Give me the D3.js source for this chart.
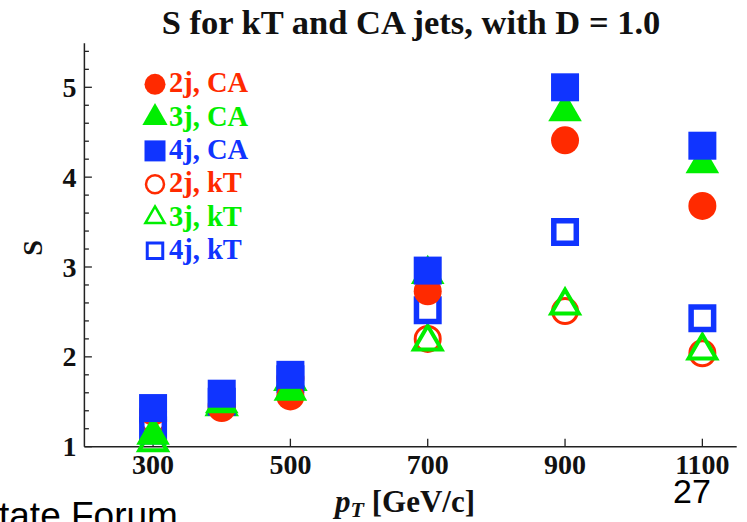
<!DOCTYPE html>
<html><head><meta charset="utf-8">
<script src="https://cdn.jsdelivr.net/npm/d3@7"></script>
<style>body{margin:0;background:#fff}svg{display:block}</style>
</head><body>
<script>
const pt = [300, 400, 500, 700, 900, 1100];
const xTicks = [300, 500, 700, 900, 1100];
const yTicks = [1, 2, 3, 4, 5];
const CA2 = [1.39, 1.43, 1.56, 2.73, 4.41, 3.68];
const CA3 = [1.13, 1.48, 1.62, 2.92, 4.73, 4.15];
const CA4 = [1.43, 1.59, 1.80, 2.96, 5.00, 4.35];
const kT2 = [1.30, 1.46, 1.76, 2.20, 2.51, 2.04];
const kT3 = [1.05, 1.45, 1.73, 2.17, 2.57, 2.07];
const kT4 = [1.18, 1.50, 1.75, 2.52, 3.39, 2.43];
const seriesNames = ["2j, CA", "3j, CA", "4j, CA", "2j, kT", "3j, kT", "4j, kT"];

const RED = "#ff2a00", GREEN = "#00ee00", BLUE = "#1034ff";
const series = [
  {name: seriesNames[3], vals: kT2, shape: "circle", fill: false, color: RED},
  {name: seriesNames[4], vals: kT3, shape: "triangle", fill: false, color: GREEN},
  {name: seriesNames[5], vals: kT4, shape: "square", fill: false, color: BLUE},
  {name: seriesNames[0], vals: CA2, shape: "circle", fill: true, color: RED},
  {name: seriesNames[1], vals: CA3, shape: "triangle", fill: true, color: GREEN},
  {name: seriesNames[2], vals: CA4, shape: "square", fill: true, color: BLUE}
];
const legendOrder = [3, 4, 5, 0, 1, 2];

const W = 747, H = 522;
const svg = d3.select("body").append("svg").attr("width", W).attr("height", H);
const x = d3.scaleLinear().domain([200, 1150]).range([84.4, 736.7]);
const y = d3.scaleLinear().domain([1, 5]).range([446.7, 87.3]);
const serif = "'Liberation Serif','Times New Roman',serif";

function symPath(shape, scale, fill) {
  if (shape === "circle") {
    const r = fill ? scale / 2 : scale / 2 - 1.5;
    return d3.symbol(d3.symbolCircle, Math.PI * r * r)();
  }
  if (shape === "square") {
    const s = fill ? scale : scale - 5.5;
    return d3.symbol(d3.symbolSquare, s * s)();
  }
  const w = fill ? scale * 1.2 : scale * 1.2 - 6;
  const yy = w / (2 * Math.sqrt(3));
  return d3.symbol(d3.symbolTriangle, yy * yy * 3 * Math.sqrt(3))();
}
function strokeW(shape) { return shape === "circle" ? 3 : shape === "square" ? 5.5 : 4; }

// axes
const axisColor = "#222";
const gy = svg.append("g").attr("transform", `translate(${x(200)},0)`);
gy.append("line").attr("x1", 0).attr("x2", 0).attr("y1", y(1)).attr("y2", y(5.49))
  .attr("stroke", axisColor).attr("stroke-width", 1.5);
const minorY = d3.range(1.2, 5.5, 0.2).filter(v => Math.abs(v - Math.round(v)) > 0.01);
gy.selectAll(".mn").data(minorY).join("line").attr("x1", 0).attr("x2", 4.5)
  .attr("y1", d => y(d)).attr("y2", d => y(d)).attr("stroke", axisColor).attr("stroke-width", 1.3);
gy.selectAll(".mj").data(yTicks).join("line").attr("x1", 0).attr("x2", 7.5)
  .attr("y1", d => y(d)).attr("y2", d => y(d)).attr("stroke", axisColor).attr("stroke-width", 1.3);
gy.selectAll("text").data(yTicks).join("text").attr("x", -8).attr("y", d => y(d) + 9.5)
  .attr("text-anchor", "end").attr("font-family", serif).attr("font-weight", "bold")
  .attr("font-size", 28).attr("fill", "#111").text(d => d);

const gx = svg.append("g");
gx.append("line").attr("x1", x(200)).attr("x2", x(1150)).attr("y1", y(1)).attr("y2", y(1))
  .attr("stroke", axisColor).attr("stroke-width", 1.5);
gx.selectAll(".tk").data(xTicks).join("line").attr("x1", d => x(d)).attr("x2", d => x(d))
  .attr("y1", y(1)).attr("y2", y(1) - 8).attr("stroke", axisColor).attr("stroke-width", 1.3);
gx.selectAll("text").data(xTicks).join("text").attr("x", d => x(d)).attr("y", 474)
  .attr("text-anchor", "middle").attr("font-family", serif).attr("font-weight", "bold")
  .attr("font-size", 28).attr("fill", "#111").text(d => d);

// points
series.forEach(s => {
  svg.append("g").selectAll("path").data(pt.map((p, i) => [p, s.vals[i]])).join("path")
    .attr("transform", d => `translate(${x(d[0])},${y(d[1])})`)
    .attr("d", symPath(s.shape, 28, s.fill))
    .attr("fill", s.fill ? s.color : "none")
    .attr("stroke", s.fill ? "none" : s.color)
    .attr("stroke-width", s.fill ? 0 : strokeW(s.shape));
});

// legend
const lg = svg.append("g");
legendOrder.forEach((si, k) => {
  const s = series[si];
  const cy = 84.3 + k * 33.3;
  lg.append("path").attr("transform", `translate(155,${cy})`)
    .attr("d", symPath(s.shape, 21, s.fill))
    .attr("fill", s.fill ? s.color : "none")
    .attr("stroke", s.fill ? "none" : s.color)
    .attr("stroke-width", s.fill ? 0 : (s.shape === "square" ? 3 : 2.5));
  lg.append("text").attr("x", 169).attr("y", cy + 8).attr("font-family", serif)
    .attr("font-weight", "bold").attr("font-size", 28.5).attr("fill", s.color).text(s.name);
});

// titles
svg.append("text").attr("x", 411).attr("y", 34).attr("text-anchor", "middle")
  .attr("font-family", serif).attr("font-weight", "bold").attr("font-size", 34.5)
  .attr("fill", "#111").text("S for kT and CA jets, with D = 1.0");
svg.append("text").attr("transform", "translate(42,248) rotate(-90)").attr("text-anchor", "middle")
  .attr("font-family", serif).attr("font-weight", "bold").attr("font-size", 28)
  .attr("fill", "#111").text("S");
const xl = svg.append("text").attr("x", 335).attr("y", 512).attr("font-family", serif)
  .attr("font-weight", "bold").attr("font-size", 31).attr("fill", "#111");
xl.append("tspan").attr("font-style", "italic").text("p");
xl.append("tspan").attr("font-style", "italic").attr("font-size", 22).attr("dy", 5).text("T");
xl.append("tspan").attr("dy", -5).text(" [GeV/c]");

// slide residue
svg.append("text").attr("x", -1).attr("y", 528).attr("font-family", "'Liberation Sans',Arial,sans-serif")
  .attr("font-size", 37).attr("fill", "#000").text("tate Forum");
svg.append("text").attr("x", 673).attr("y", 503).attr("font-family", "'Liberation Sans',Arial,sans-serif")
  .attr("font-size", 34).attr("fill", "#000").text("27");
</script>
</body></html>
